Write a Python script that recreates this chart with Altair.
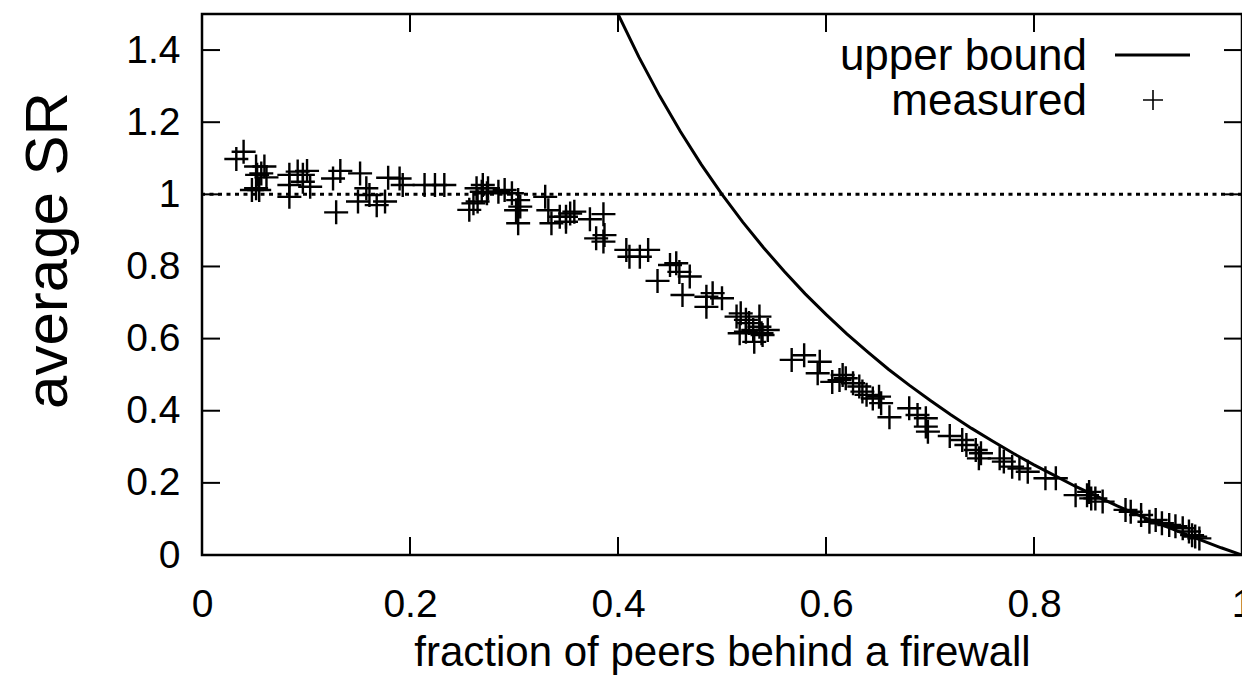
import altair as alt
import pandas as pd

# ---------------- data ----------------
frac_measured = [
    0.033, 0.040, 0.052, 0.060, 0.057, 0.053, 0.052, 0.048, 0.055, 0.062,
    0.084, 0.084, 0.084, 0.092, 0.097, 0.101, 0.104, 0.097, 0.126, 0.133,
    0.129, 0.152, 0.150, 0.158, 0.161, 0.168, 0.176, 0.179, 0.190, 0.193,
    0.214, 0.224, 0.233,
    0.257, 0.261, 0.265, 0.264, 0.270, 0.275, 0.269, 0.274, 0.285, 0.291,
    0.298, 0.304, 0.306, 0.302, 0.304, 0.330, 0.333, 0.336, 0.344, 0.350,
    0.354, 0.358, 0.350, 0.373, 0.386, 0.379, 0.386, 0.387, 0.408, 0.411,
    0.421, 0.429, 0.438, 0.450, 0.456, 0.459, 0.469, 0.462, 0.485, 0.485,
    0.491, 0.500,
    0.514, 0.518, 0.523, 0.536, 0.530, 0.517, 0.523, 0.536, 0.544, 0.531,
    0.526, 0.538, 0.539,
    0.567, 0.579, 0.594, 0.592, 0.606, 0.613, 0.616, 0.619, 0.626, 0.632,
    0.635, 0.639, 0.645, 0.651, 0.653, 0.661, 0.680, 0.688, 0.696, 0.696,
    0.698, 0.719, 0.731, 0.735,
    0.744, 0.749, 0.747, 0.767, 0.771, 0.779, 0.786, 0.794, 0.811, 0.821,
    0.840, 0.851, 0.855, 0.859, 0.866, 0.853, 0.888, 0.893, 0.903, 0.911,
    0.917, 0.923, 0.930, 0.936, 0.943, 0.949, 0.952, 0.955, 0.959,
]
sr_measured = [
    1.098, 1.118, 1.077, 1.077, 1.058, 1.054, 1.017, 1.012, 1.012, 1.047,
    1.054, 1.026, 0.993, 1.063, 1.054, 1.065, 1.021, 1.035, 1.044, 1.065,
    0.950, 1.058, 0.980, 1.017, 0.998, 0.970, 0.980, 1.046, 1.044, 1.026,
    1.026, 1.026, 1.026,
    0.957, 0.975, 0.980, 1.017, 1.026, 1.017, 1.007, 1.003, 1.007, 1.012,
    1.003, 0.984, 0.966, 0.956, 0.920, 0.993, 0.956, 0.920, 0.938, 0.938,
    0.947, 0.952, 0.924, 0.931, 0.945, 0.878, 0.869, 0.887, 0.846, 0.827,
    0.827, 0.846, 0.760, 0.804, 0.809, 0.785, 0.772, 0.721, 0.716, 0.688,
    0.726, 0.712,
    0.661, 0.670, 0.652, 0.661, 0.624, 0.615, 0.619, 0.633, 0.624, 0.591,
    0.643, 0.615, 0.610,
    0.541, 0.554, 0.536, 0.504, 0.480, 0.485, 0.499, 0.490, 0.476, 0.467,
    0.453, 0.444, 0.434, 0.439, 0.421, 0.382, 0.407, 0.388, 0.379, 0.356,
    0.342, 0.330, 0.319, 0.305,
    0.291, 0.282, 0.268, 0.268, 0.259, 0.245, 0.240, 0.231, 0.213, 0.213,
    0.166, 0.166, 0.157, 0.157, 0.148, 0.175, 0.125, 0.120, 0.111, 0.092,
    0.097, 0.088, 0.083, 0.080, 0.074, 0.065, 0.055, 0.051, 0.046,
]

frac_bound = [0.40, 0.42, 0.44, 0.46, 0.48, 0.50, 0.52, 0.54, 0.56, 0.58,
              0.60, 0.62, 0.64, 0.66, 0.68, 0.70, 0.72, 0.74, 0.76, 0.78,
              0.80, 0.82, 0.84, 0.86, 0.88, 0.90, 0.92, 0.94, 0.96, 0.98, 1.00]
sr_bound = [1.500, 1.381, 1.273, 1.174, 1.083, 1.000, 0.923, 0.852, 0.786, 0.724,
            0.667, 0.613, 0.563, 0.515, 0.471, 0.429, 0.389, 0.351, 0.316, 0.282,
            0.250, 0.220, 0.190, 0.163, 0.136, 0.111, 0.087, 0.064, 0.042, 0.020, 0.000]

x_ticks = [0, 0.2, 0.4, 0.6, 0.8, 1.0]
y_ticks = [0, 0.2, 0.4, 0.6, 0.8, 1.0, 1.2, 1.4]
ref_level = [1.0]
legend_labels = ["upper bound", "measured"]

x_title = "fraction of peers behind a firewall"
y_title = "average SR"

# ---------------- layout / style ----------------
W, H = 1040, 541
TICK = 18
FONT = "Liberation Sans"
CROSS = "M-1,0L1,0M0,-1L0,1"

measured_df = pd.DataFrame({"x": frac_measured, "y": sr_measured})
bound_df = pd.DataFrame({"x": frac_bound, "y": sr_bound})
xt_df = pd.DataFrame({"x": x_ticks})
yt_df = pd.DataFrame({"y": y_ticks})
ref_df = pd.DataFrame({"y": ref_level})
one = pd.DataFrame({"k": [0]})

xscale = alt.Scale(domain=[0, 1], nice=False, zero=False)
yscale = alt.Scale(domain=[0, 1.5], nice=False, zero=False)

xaxis = alt.Axis(values=x_ticks, format=".1~f", ticks=False, tickSize=0, domain=False,
                 grid=False, labelFont=FONT, labelFontSize=39, labelColor="black",
                 labelPadding=30, labelFlush=False, labelOverlap=False,
                 title=x_title, titleFont=FONT, titleFontSize=42,
                 titleFontWeight="normal", titleColor="black",
                 titleY=110, titleBaseline="alphabetic")
yaxis = alt.Axis(values=y_ticks, format=".1~f", ticks=False, tickSize=0, domain=False,
                 grid=False, labelFont=FONT, labelFontSize=39, labelColor="black",
                 labelPadding=22, labelFlush=False, labelOverlap=False,
                 title=y_title, titleFont=FONT, titleFontSize=60,
                 titleFontWeight="normal", titleColor="black",
                 titleX=-136, titleY=236, titleAngle=270,
                 titleAlign="center", titleBaseline="alphabetic")

X = alt.X("x:Q", scale=xscale, axis=xaxis)
Y = alt.Y("y:Q", scale=yscale, axis=yaxis)

ref_line = alt.Chart(ref_df).mark_rule(
    color="black", strokeWidth=3, strokeDash=[4, 4.5]
).encode(y=Y)

bound = alt.Chart(bound_df).mark_line(
    color="black", strokeWidth=3, clip=True
).encode(x=X, y=Y)

points = alt.Chart(measured_df).mark_point(
    shape=CROSS, size=576, filled=False, color="black", strokeWidth=2.4, opacity=1
).encode(x=X, y=Y)

tick_bottom = alt.Chart(xt_df).mark_rule(color="black", strokeWidth=2).encode(
    x=X, y=alt.value(H - TICK), y2=alt.value(H))
tick_top = alt.Chart(xt_df).mark_rule(color="black", strokeWidth=2).encode(
    x=X, y=alt.value(0), y2=alt.value(TICK))
tick_left = alt.Chart(yt_df).mark_rule(color="black", strokeWidth=2).encode(
    y=Y, x=alt.value(0), x2=alt.value(TICK))
tick_right = alt.Chart(yt_df).mark_rule(color="black", strokeWidth=2).encode(
    y=Y, x=alt.value(W - TICK), x2=alt.value(W))

leg_text1 = alt.Chart(pd.DataFrame({"label": [legend_labels[0]]})).mark_text(
    font=FONT, fontSize=44, align="right", baseline="alphabetic", color="black"
).encode(text="label:N", x=alt.value(885), y=alt.value(56))
leg_text2 = alt.Chart(pd.DataFrame({"label": [legend_labels[1]]})).mark_text(
    font=FONT, fontSize=44, align="right", baseline="alphabetic", color="black"
).encode(text="label:N", x=alt.value(885), y=alt.value(101))
leg_line = alt.Chart(one).mark_rule(color="black", strokeWidth=3).encode(
    x=alt.value(913), x2=alt.value(988), y=alt.value(41))
leg_cross = alt.Chart(one).mark_point(
    shape=CROSS, size=400, filled=False, color="black", strokeWidth=1.6, opacity=1
).encode(x=alt.value(951), y=alt.value(86))

chart = alt.layer(
    ref_line, bound, points, tick_bottom, tick_top, tick_left, tick_right,
    leg_text1, leg_text2, leg_line, leg_cross
).properties(
    width=W, height=H,
    autosize=alt.AutoSizeParams(type="none"),
    padding={"left": 194, "top": 6, "right": 0, "bottom": 122},
    background="white",
).configure_view(stroke="black", strokeWidth=2.5)

chart.save("out.html", embed_options={"renderer": "svg", "actions": False})
